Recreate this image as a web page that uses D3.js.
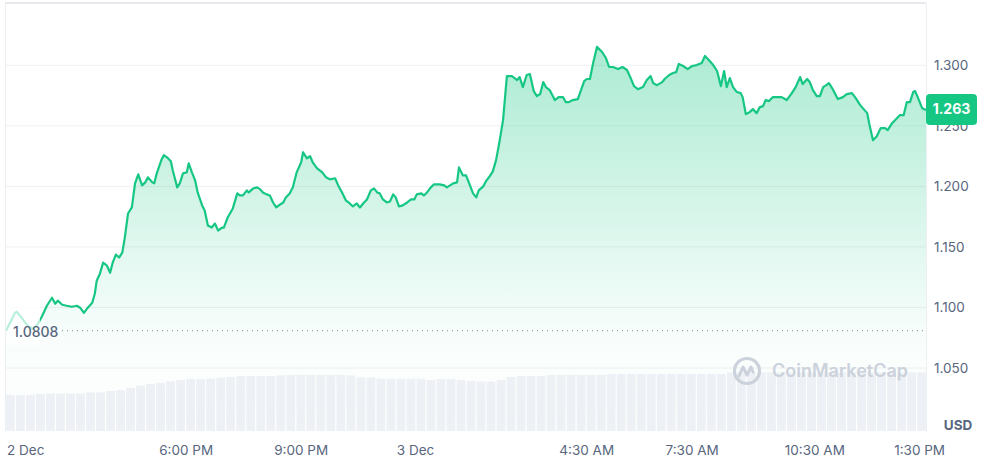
<!DOCTYPE html>
<html><head><meta charset="utf-8">
<script src="https://cdn.jsdelivr.net/npm/d3@7"></script>
<style>
body{margin:0;background:#fff;}
svg{display:block;font-family:Inter,"Noto Sans",sans-serif;}
</style>
</head><body>
<svg id="chart" width="981" height="458"></svg>
<script>
// minutes since start of the 24h window
const minutes = [0,8,14,17,27,34,42,49,56,64,72,77,81,88,95,103,111,116,122,128,135,139,142,147,152,158,163,167,172,177,182,186,191,197,202,207,213,218,222,229,232,236,243,247,252,258,261,268,272,277,283,286,291,296,300,307,311,316,322,327,332,338,341,347,355,362,366,371,377,380,387,393,398,402,408,413,418,423,427,434,438,444,449,455,462,465,471,476,480,487,495,501,507,515,520,526,532,538,543,549,554,559,565,571,576,581,585,590,596,601,606,610,615,621,628,634,639,643,650,654,659,665,670,679,686,690,695,700,706,709,715,720,725,731,736,740,747,751,756,762,767,772,778,784,792,800,804,809,815,820,826,831,836,841,845,851,859,865,872,876,881,887,895,905,909,914,919,925,933,939,944,950,958,965,972,977,983,989,997,1003,1009,1013,1019,1027,1031,1038,1044,1049,1053,1060,1067,1074,1081,1089,1094,1100,1107,1113,1119,1124,1128,1133,1138,1144,1150,1153,1158,1164,1169,1175,1180,1185,1189,1194,1200,1207,1214,1222,1230,1236,1243,1247,1254,1258,1263,1269,1274,1279,1284,1288,1294,1302,1310,1316,1324,1329,1337,1348,1351,1357,1363,1369,1376,1380,1387,1393,1399,1405,1410,1415,1420,1423,1427,1434,1440];
const prices = [1.0808,1.0890,1.0956,1.0964,1.0898,1.0848,1.0824,1.0857,1.0923,1.1014,1.1080,1.1031,1.1056,1.1022,1.1014,1.1006,1.1014,1.0998,1.0956,1.0998,1.1039,1.1113,1.1221,1.1279,1.1370,1.1345,1.1287,1.1370,1.1437,1.1412,1.1453,1.1577,1.1776,1.1826,1.2025,1.2099,1.2008,1.2033,1.2075,1.2033,1.2025,1.2108,1.2215,1.2257,1.2240,1.2207,1.2133,1.1992,1.2025,1.2108,1.2116,1.2191,1.2116,1.2050,1.1950,1.1843,1.1801,1.1677,1.1660,1.1693,1.1635,1.1660,1.1660,1.1743,1.1818,1.1942,1.1925,1.1925,1.1967,1.1950,1.1983,1.1992,1.1975,1.1950,1.1934,1.1925,1.1867,1.1826,1.1843,1.1867,1.1909,1.1942,1.1992,1.2116,1.2199,1.2282,1.2232,1.2249,1.2199,1.2149,1.2116,1.2075,1.2058,1.2067,1.2008,1.1950,1.1884,1.1859,1.1834,1.1859,1.1826,1.1859,1.1892,1.1967,1.1983,1.1950,1.1942,1.1892,1.1867,1.1875,1.1934,1.1909,1.1834,1.1843,1.1867,1.1892,1.1892,1.1934,1.1942,1.1925,1.1950,1.1992,1.2017,1.2017,1.2008,1.1992,1.2008,1.2025,1.2033,1.2157,1.2091,1.2091,1.2025,1.1942,1.1909,1.1967,1.2000,1.2041,1.2075,1.2124,1.2215,1.2356,1.2547,1.2911,1.2911,1.2878,1.2903,1.2820,1.2920,1.2928,1.2787,1.2746,1.2762,1.2862,1.2820,1.2795,1.2713,1.2737,1.2737,1.2696,1.2696,1.2713,1.2721,1.2870,1.2887,1.2887,1.3019,1.3152,1.3110,1.3060,1.2986,1.2986,1.2969,1.2986,1.2961,1.2903,1.2828,1.2803,1.2820,1.2878,1.2911,1.2853,1.2836,1.2861,1.2887,1.2920,1.2936,1.2944,1.3011,1.2994,1.2969,1.2994,1.3002,1.3019,1.3077,1.3044,1.3002,1.2953,1.2828,1.2953,1.2820,1.2895,1.2820,1.2779,1.2770,1.2737,1.2597,1.2613,1.2638,1.2605,1.2655,1.2663,1.2713,1.2704,1.2737,1.2737,1.2737,1.2713,1.2770,1.2820,1.2903,1.2845,1.2887,1.2862,1.2795,1.2746,1.2746,1.2820,1.2836,1.2853,1.2803,1.2721,1.2737,1.2762,1.2770,1.2737,1.2671,1.2605,1.2522,1.2381,1.2414,1.2481,1.2481,1.2464,1.2522,1.2555,1.2588,1.2588,1.2696,1.2696,1.2779,1.2787,1.2737,1.2646,1.2630];
// 24h volume (arbitrary units), one bar per slot
const volumes = [18,18,18,18.5,18.7,18.7,18.7,18.7,19.3,19.3,20,20.5,21.5,22.7,23.5,24.1,24.8,25.5,26,26,26.2,26.6,27,27.5,27.5,27.5,27.5,27.8,28,28,28,28,28,28,27.7,26.8,26.7,26.1,26.1,26.1,26.1,26.1,25.5,26,26,25.5,25,24.7,24.7,25.5,27,27.5,27.5,27.5,28,28,28,28,28,28,28.5,28.5,28.5,28.5,28.5,28.5,28.5,28.5,28.5,28.5,28.5,28.5,29.3,29.3,29.3,29.3,29.3,29.3,29.3,29.3,29.3,29.3,29.3,29.3,29.3,29.3,29.3,29.3,29.3,29.3,29.3,29.3];
const yTicks = [1.05,1.10,1.15,1.20,1.25,1.30];
const xTickLabels = ["2 Dec","6:00 PM","9:00 PM","3 Dec","4:30 AM","7:30 AM","10:30 AM","1:30 PM"];
const xTickMinutes = [0,282,462,641,909,1074,1266,1430];
const openPrice = 1.0808;
const lastPrice = 1.263;

const data = minutes.map((m,i)=>({m, p:prices[i]}));
const svg = d3.select("#chart");
const GREEN = "#16c784";
const L = 6, R = 926, T = 3, B = 431;

const x = d3.scaleLinear().domain([0,1440]).range([L,R]);
const y = d3.scaleLinear().domain([1.05,1.30]).range([368,65.3]);
const v = d3.scaleLinear().domain([0,30]).range([B,371]);
const xb = d3.scaleBand().domain(d3.range(volumes.length)).range([L,R]).paddingInner(0.12);

const defs = svg.append("defs");
const grad = defs.append("linearGradient").attr("id","ag")
  .attr("gradientUnits","userSpaceOnUse").attr("x1",0).attr("x2",0)
  .attr("y1", y(d3.max(prices))).attr("y2", B);
grad.append("stop").attr("offset",0).attr("stop-color",GREEN).attr("stop-opacity",0.36);
grad.append("stop").attr("offset",0.75).attr("stop-color",GREEN).attr("stop-opacity",0.03);
grad.append("stop").attr("offset",1).attr("stop-color",GREEN).attr("stop-opacity",0);

// grid
svg.append("g").selectAll("line").data(yTicks).join("line")
  .attr("x1",L).attr("x2",R).attr("y1",d=>y(d)).attr("y2",d=>y(d))
  .attr("stroke","#eef0f3").attr("stroke-width",1);

// area
svg.append("path").datum(data)
  .attr("d", d3.area().x(d=>x(d.m)).y0(B).y1(d=>y(d.p)))
  .attr("fill","url(#ag)");

// volume bars
svg.append("g").selectAll("rect").data(volumes).join("rect")
  .attr("x",(d,i)=>xb(i)).attr("width",xb.bandwidth())
  .attr("y",d=>v(d)).attr("height",d=>B-v(d))
  .attr("fill","#edf0f4");

// price line
svg.append("path").datum(data)
  .attr("d", d3.line().x(d=>x(d.m)).y(d=>y(d.p)))
  .attr("fill","none").attr("stroke",GREEN).attr("stroke-width",2.2)
  .attr("stroke-linejoin","round");

// open price dotted line
svg.append("line").attr("x1",62).attr("x2",R)
  .attr("y1",y(openPrice)).attr("y2",y(openPrice))
  .attr("stroke","#7d879b").attr("stroke-width",1).attr("stroke-dasharray","1,4");
svg.append("rect").attr("x",L).attr("y",y(openPrice)-27).attr("width",34).attr("height",42)
  .attr("fill","#fff").attr("opacity",0.7);
svg.append("text").attr("x",13).attr("y",y(openPrice)+2).attr("dominant-baseline","middle")
  .attr("font-size",14).attr("font-weight",500).attr("fill","#58667e").text(openPrice.toFixed(4));

// watermark
const wm = svg.append("g").attr("opacity",0.9);
const cx = 747, cy = 371;
wm.append("circle").attr("cx",cx).attr("cy",cy).attr("r",12.5)
  .attr("fill","none").attr("stroke","#c8ced9").attr("stroke-width",3.2);
wm.append("path").attr("d",`M${cx-8},${cy+5} L${cx-4},${cy-4} L${cx},${cy+4} L${cx+4},${cy-4} L${cx+6},${cy+1}`)
  .attr("fill","none").attr("stroke","#c8ced9").attr("stroke-width",3).attr("stroke-linejoin","round").attr("stroke-linecap","round");
wm.append("text").attr("x",772).attr("y",cy+1).attr("dominant-baseline","middle")
  .attr("font-size",18).attr("font-weight",600).attr("fill","#c8ced9").text("CoinMarketCap");

// frame
svg.append("line").attr("x1",L-1).attr("x2",R).attr("y1",T).attr("y2",T).attr("stroke","#e8eaee").attr("stroke-width",2);
svg.append("line").attr("x1",L-0.5).attr("x2",L-0.5).attr("y1",T).attr("y2",B+1).attr("stroke","#eceef2");
svg.append("line").attr("x1",R+0.5).attr("x2",R+0.5).attr("y1",T).attr("y2",B+1).attr("stroke","#eceef2");

// y axis
const yAxis = svg.append("g").attr("transform",`translate(${R},0)`)
  .call(d3.axisRight(y).tickValues(yTicks).tickFormat(d3.format(".3f")).tickSize(0).tickPadding(8));
yAxis.select(".domain").remove();
yAxis.selectAll("text").attr("font-size",13.5).attr("fill","#58667e").attr("font-family","Inter, sans-serif");
svg.append("text").attr("x",958).attr("y",426).attr("text-anchor","middle").attr("dominant-baseline","middle")
  .attr("font-size",13.5).attr("font-weight",700).attr("fill","#58667e").text("USD");

// x axis labels
svg.append("g").selectAll("text").data(xTickMinutes).join("text")
  .attr("x",(d,i)=> i===0 ? x(d)+1 : x(d))
  .attr("y",451).attr("dominant-baseline","middle")
  .attr("text-anchor",(d,i)=> i===0 ? "start" : "middle")
  .attr("font-size",13.5).attr("fill","#58667e")
  .text((d,i)=>xTickLabels[i]);

// current price badge
const by = y(lastPrice);
svg.append("rect").attr("x",R).attr("y",by-16).attr("width",51).attr("height",31).attr("rx",4).attr("fill",GREEN);
svg.append("text").attr("x",R+25.5).attr("y",by).attr("text-anchor","middle").attr("dominant-baseline","middle")
  .attr("font-size",14).attr("font-weight",700).attr("fill","#fff").text(lastPrice.toFixed(3));
</script>
</body></html>
